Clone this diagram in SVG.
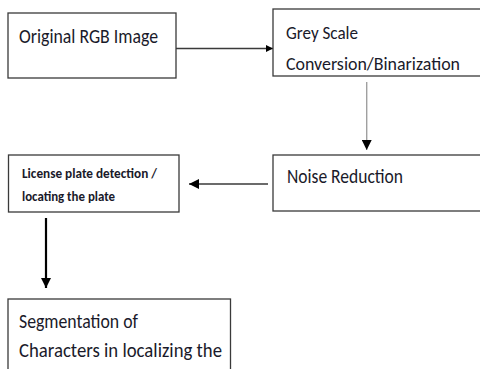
<svg xmlns="http://www.w3.org/2000/svg" width="480" height="369" viewBox="0 0 480 369">
<defs>
<style>
.box{fill:#fff;stroke:#3a3a3a;stroke-width:1.3}
.t{font-family:Carlito,Lato,"Liberation Sans",sans-serif;fill:#1a1a2a}
.b{font-weight:bold}
.c{fill:none;stroke:#3a3a3a;stroke-width:1.4}
</style>
<marker id="ah" viewBox="0 0 10 10" refX="10" refY="5" markerWidth="8" markerHeight="7" markerUnits="userSpaceOnUse" orient="auto">
<path d="M0,0 L10,5 L0,10 z" fill="#000"/>
</marker>
<marker id="ah2" viewBox="0 0 10 10" refX="10" refY="5" markerWidth="10" markerHeight="10" markerUnits="userSpaceOnUse" orient="auto">
<path d="M0,0 L10,5 L0,10 z" fill="#000"/>
</marker>
</defs>
<rect width="480" height="369" fill="#fff"/>
<g id="connectors">
<line class="c" x1="176" y1="48.5" x2="273" y2="48.5" marker-end="url(#ah)"/>
<line class="c" x1="366.7" y1="82" x2="366.7" y2="150" style="stroke:#a0a0a0" marker-end="url(#ah2)"/>
<line class="c" x1="268" y1="184" x2="189" y2="184" marker-end="url(#ah2)"/>
<line class="c" x1="46" y1="218" x2="46" y2="288" style="stroke:#000;stroke-width:2.2" marker-end="url(#ah2)"/>
</g>
<g id="n1">
<rect class="box" x="8" y="13" width="168" height="65"/>
<text class="t" x="19" y="42.5" font-size="19.5" textLength="139" lengthAdjust="spacingAndGlyphs">Original RGB Image</text>
</g>
<g id="n2">
<rect class="box" x="273" y="9" width="220" height="67"/>
<text class="t" x="286" y="38.5" font-size="18" textLength="72" lengthAdjust="spacingAndGlyphs">Grey Scale</text>
<text class="t" x="286" y="70" font-size="18" textLength="174" lengthAdjust="spacingAndGlyphs">Conversion/Binarization</text>
</g>
<g id="n3">
<rect class="box" x="273" y="155" width="220" height="56"/>
<text class="t" x="287" y="183" font-size="20" textLength="116" lengthAdjust="spacingAndGlyphs">Noise Reduction</text>
</g>
<g id="n4">
<rect class="box" x="8.5" y="155" width="170.5" height="57"/>
<text class="t b" x="22" y="178" font-size="13.5" textLength="135" lengthAdjust="spacingAndGlyphs">License plate detection /</text>
<text class="t b" x="22" y="201" font-size="13.5" textLength="93" lengthAdjust="spacingAndGlyphs">locating the plate</text>
</g>
<g id="n5">
<rect class="box" x="8" y="299" width="222.5" height="80"/>
<text class="t" x="19" y="328" font-size="20.5" textLength="119" lengthAdjust="spacingAndGlyphs">Segmentation of</text>
<text class="t" x="19" y="356.5" font-size="20.5" textLength="203" lengthAdjust="spacingAndGlyphs">Characters in localizing the</text>
</g>
</svg>
